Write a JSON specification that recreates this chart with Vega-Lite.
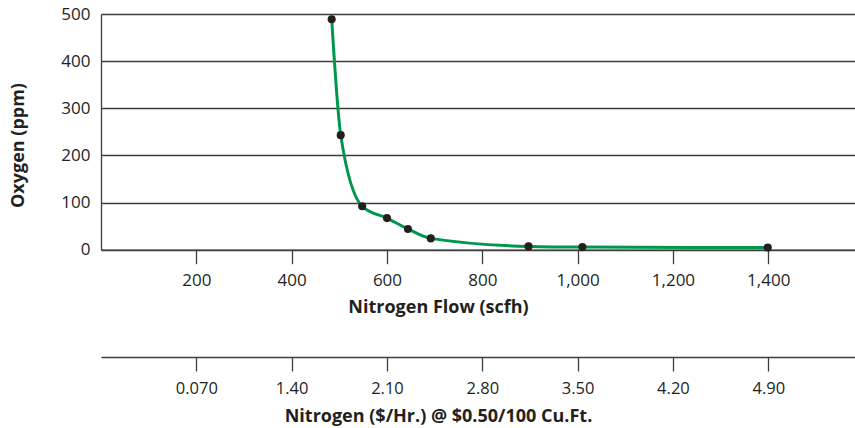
{
  "$schema": "https://vega.github.io/schema/vega-lite/v6.json",
  "width": 754,
  "height": 235.7,
  "autosize": {"type": "none"},
  "padding": {"left": 101, "top": 14, "right": 0, "bottom": 178.3},
  "background": "white",
  "config": {
    "view": {"stroke": null},
    "font": "Open Sans",
    "axis": {
      "domainColor": "#3d3d3d",
      "domainWidth": 1.3,
      "tickColor": "#3d3d3d",
      "tickWidth": 1.3,
      "gridColor": "#3d3d3d",
      "gridWidth": 1.3,
      "gridOpacity": 1,
      "labelFont": "Open Sans",
      "labelFontSize": 17,
      "labelColor": "#231f20",
      "titleFont": "Open Sans",
      "titleFontSize": 18,
      "titleFontWeight": "bold",
      "titleColor": "#231f20"
    }
  },
  "data": {
    "values": [
      {"flow": 484, "oxygen": 489},
      {"flow": 503, "oxygen": 243},
      {"flow": 548, "oxygen": 92},
      {"flow": 600, "oxygen": 67},
      {"flow": 644, "oxygen": 44},
      {"flow": 692, "oxygen": 24},
      {"flow": 897, "oxygen": 7},
      {"flow": 1010, "oxygen": 5.5},
      {"flow": 1399, "oxygen": 4.5}
    ]
  },
  "layer": [
    {
      "layer": [
        {
          "mark": {"type": "line", "interpolate": "monotone", "color": "#00964c", "strokeWidth": 3},
          "encoding": {
            "x": {
              "field": "flow",
              "type": "quantitative",
              "scale": {"domain": [0, 1582], "nice": false, "zero": false},
              "axis": {
                "orient": "bottom",
                "values": [200, 400, 600, 800, 1000, 1200, 1400],
                "format": ",d",
                "grid": false,
                "tickSize": 14,
                "labelBaseline": "middle",
                "labelPadding": 17,
                "title": "Nitrogen Flow (scfh)",
                "titleX": 337,
                "titleY": 58,
                "titleAlign": "center",
                "titleBaseline": "middle"
              }
            },
            "y": {
              "field": "oxygen",
              "type": "quantitative",
              "scale": {"domain": [0, 500], "nice": false},
              "axis": {
                "values": [0, 100, 200, 300, 400, 500],
                "grid": true,
                "ticks": false,
                "tickSize": 0,
                "labelPadding": 11,
                "title": "Oxygen (ppm)",
                "titleX": -83,
                "titleY": 131,
                "titleAngle": -90,
                "titleAlign": "center",
                "titleBaseline": "middle"
              }
            }
          }
        },
        {
          "mark": {"type": "point", "filled": true, "color": "#231f20", "size": 65, "opacity": 1},
          "encoding": {
            "x": {"field": "flow", "type": "quantitative"},
            "y": {"field": "oxygen", "type": "quantitative"}
          }
        }
      ]
    },
    {
      "mark": {"type": "point", "opacity": 0},
      "encoding": {
        "x": {
          "field": "flow",
          "type": "quantitative",
          "scale": {"domain": [0, 1582], "nice": false, "zero": false},
          "axis": {
            "orient": "bottom",
            "offset": 107.3,
            "values": [200, 400, 600, 800, 1000, 1200, 1400],
            "labelExpr": "datum.value == 200 ? '0.070' : format(datum.value * 0.0035, '.2f')",
            "grid": false,
            "tickSize": 14,
            "labelFontSize": 16.5,
            "labelBaseline": "middle",
            "labelPadding": 17,
            "title": "Nitrogen ($/Hr.) @ $0.50/100 Cu.Ft.",
            "titleFontSize": 18,
            "titleX": 337,
            "titleY": 59,
            "titleAlign": "center",
            "titleBaseline": "middle"
          }
        },
        "y": {"field": "oxygen", "type": "quantitative"}
      }
    }
  ],
  "resolve": {"scale": {"x": "independent"}, "axis": {"x": "independent"}}
}
